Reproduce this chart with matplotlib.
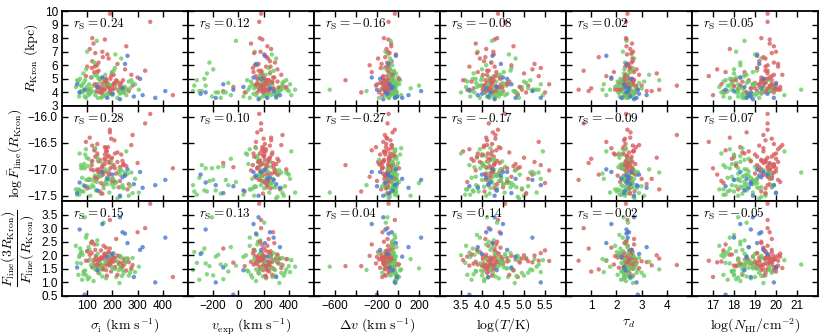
import numpy as np
import matplotlib
matplotlib.use('Agg')
import matplotlib.pyplot as plt

# --- red objects ---
R_red = [5.0, 4.4, 6.3, 4.7, 4.2, 5.5, 4.0, 4.8, 7.2, 4.5,
         4.1, 5.9, 4.6, 4.3, 5.2, 4.9, 6.8, 4.2, 5.6, 4.4,
         7.6, 4.7, 4.0, 5.3, 4.5, 6.0, 4.3, 4.9, 5.1, 4.1,
         9.8, 4.6, 5.7, 4.4, 6.5, 4.2, 4.8, 7.9, 4.0, 5.4,
         3.8, 4.6, 5.0, 4.3, 7.0, 4.7, 5.8, 4.1, 4.5, 6.2,
         9.2, 4.9, 4.2, 5.5, 4.4, 6.6, 4.0, 5.1, 4.6, 4.3,
         5.9, 4.5, 7.4, 4.2, 4.8, 5.2, 4.1, 6.1, 4.7, 4.4,
         5.6, 4.3, 6.9, 4.9, 4.0, 5.3, 8.0, 4.6, 4.2, 5.0]
logF_red = [-16.82, -17.12, -16.55, -16.98, -17.30, -16.70, -16.90, -17.05, -16.40, -17.18,
            -16.88, -16.62, -17.22, -16.94, -16.48, -17.08, -16.76, -17.38, -16.85, -16.58,
            -17.02, -16.72, -17.26, -16.92, -16.35, -17.14, -16.80, -16.66, -17.00, -17.34,
            -16.25, -16.96, -17.10, -16.52, -16.86, -17.20, -16.68, -16.90, -17.42, -16.78,
            -16.98, -17.16, -16.60, -16.84, -17.04, -16.45, -16.92, -17.28, -16.74, -17.06,
            -15.95, -16.82, -17.24, -16.64, -16.96, -17.10, -16.30, -16.88, -17.02, -16.70,
            -17.36, -16.58, -16.94, -17.12, -16.80, -16.42, -17.18, -16.86, -16.66, -17.00,
            -16.13, -17.08, -16.76, -16.92, -17.46, -16.54, -16.84, -17.22, -16.72, -16.98]
ratio_red = [1.72, 2.10, 1.58, 1.90, 2.35, 1.66, 1.84, 1.45, 2.02, 1.78,
             2.25, 1.62, 1.94, 1.50, 1.80, 2.60, 1.70, 1.88, 1.35, 2.06,
             1.76, 1.54, 2.18, 1.86, 1.64, 1.98, 1.40, 1.82, 2.45, 1.68,
             3.30, 1.92, 1.74, 1.56, 2.12, 1.80, 1.28, 1.96, 1.60, 2.00,
             1.20, 1.85, 2.28, 1.69, 1.52, 1.90, 2.08, 1.75, 1.62, 1.83,
             3.90, 1.66, 1.95, 2.40, 1.73, 1.48, 1.88, 2.85, 1.79, 1.57,
             2.15, 1.70, 1.44, 1.92, 2.03, 1.81, 1.63, 1.99, 1.25, 1.86,
             3.00, 1.74, 2.20, 1.60, 1.87, 1.53, 2.50, 1.77, 1.97, 1.67]
sigma_red = [150, 185, 120, 210, 165, 140, 245, 175, 110, 200,
             190, 130, 230, 160, 95, 215, 180, 260, 145, 170,
             125, 235, 155, 205, 280, 135, 195, 175, 115, 225,
             190, 160, 250, 140, 185, 105, 220, 170, 150, 198,
             440, 130, 175, 240, 160, 208, 118, 265, 185, 145,
             350, 172, 200, 128, 230, 162, 190, 300, 140, 210,
             100, 182, 255, 155, 168, 195, 138, 220, 178, 148,
             330, 188, 132, 242, 160, 275, 120, 205, 170, 192]
vexp_red = [210, 180, 250, 150, 230, 120, 300, 195, 260, 170,
            -120, 220, 185, 280, 140, 240, 205, 330, 160, 190,
            100, 265, 215, 175, 350, 130, 245, 200, 285, 225,
            180, 155, 310, 210, 235, 165, 270, 190, 50, 250,
            220, 145, 200, 320, 175, 260, 115, 230, 195, 290,
            165, 240, 205, 185, -40, 225, 150, 275, 210, 170,
            255, 135, 230, 190, 310, 200, 245, 160, 215, 380,
            180, 265, 125, 220, 195, 340, 170, 235, 205, 150]
dv_red = [-80, -120, -60, -150, -95, -40, -180, -70, -110, -130,
          -50, -90, -200, -75, -140, -100, -20, -160, -85, -115,
          -65, -170, -105, -45, -125, -270, -88, -135, -55, -98,
          -30, -145, -78, -112, -190, -62, -128, -92, -350, -82,
          -150, -108, -58, -138, -96, -72, -165, -118, -42, -102,
          -90, -132, -68, -250, -86, -122, -52, -148, -94, -76,
          -110, -210, -64, -126, -84, -104, -36, -156, -116, -70,
          -100, -142, -80, -500, -92, -60, -134, -88, -120, 10]
logT_red = [4.20, 4.35, 4.05, 4.60, 4.15, 3.90, 4.80, 4.25, 4.10, 5.10,
            4.30, 3.70, 4.45, 4.18, 5.35, 4.08, 4.28, 4.95, 4.12, 4.40,
            3.85, 4.22, 5.50, 4.02, 4.32, 4.70, 4.16, 3.55, 4.26, 4.50,
            4.38, 4.10, 5.20, 4.24, 3.95, 4.14, 4.65, 4.30, 4.06, 5.00,
            4.85, 4.20, 4.44, 3.80, 4.27, 4.12, 5.40, 4.36, 4.00, 4.22,
            4.55, 4.18, 3.65, 4.34, 4.90, 4.08, 4.26, 4.42, 5.60, 4.14,
            4.30, 4.04, 4.75, 4.20, 3.75, 4.32, 4.10, 5.25, 4.24, 4.48,
            4.16, 4.40, 3.88, 4.28, 5.05, 4.12, 4.36, 4.60, 4.02, 4.22]
tau_red = [2.50, 2.30, 2.65, 2.20, 2.45, 1.90, 2.75, 2.40, 2.55, 3.00,
           0.90, 2.35, 2.60, 2.48, 1.60, 2.70, 2.42, 3.70, 2.52, 2.28,
           2.62, 2.10, 2.58, 2.38, 4.40, 2.46, 1.00, 2.68, 2.32, 2.56,
           2.44, 2.25, 2.80, 2.36, 2.64, 0.50, 2.50, 2.40, 2.72, 3.60,
           2.34, 2.58, 1.80, 2.46, 2.66, 2.30, 2.54, 3.20, 2.42, 2.60,
           2.38, 2.48, 2.15, 2.70, 2.36, 1.30, 2.56, 2.44, 2.62, 2.28,
           2.52, 2.78, 2.40, 2.05, 2.58, 2.34, 3.40, 2.46, 2.66, 2.50,
           0.70, 2.42, 2.60, 2.32, 2.54, 2.90, 2.38, 2.48, 1.95, 2.64]
NHI_red = [19.5, 19.8, 19.2, 20.0, 19.6, 18.5, 19.9, 19.3, 17.8, 19.7,
           19.4, 20.1, 18.9, 19.6, 16.8, 19.8, 19.1, 18.2, 19.5, 20.2,
           19.7, 19.0, 17.5, 19.9, 19.4, 19.6, 20.0, 18.7, 19.3, 19.8,
           19.6, 19.2, 17.2, 19.9, 19.5, 20.1, 18.4, 19.7, 19.3, 19.6,
           17.0, 19.8, 19.4, 18.8, 20.0, 19.5, 19.1, 19.7, 18.0, 19.9,
           19.6, 19.3, 20.2, 17.6, 19.8, 19.4, 18.6, 19.7, 19.2, 20.0,
           19.5, 18.3, 19.9, 19.6, 17.9, 19.8, 19.1, 20.1, 19.4, 19.7,
           19.6, 19.0, 19.8, 18.1, 19.5, 20.3, 19.3, 17.4, 19.9, 19.6]

# --- green objects ---
R_green = [4.1, 3.8, 5.4, 4.4, 6.0, 3.7, 4.9, 4.2, 3.9, 5.1,
           4.6, 4.0, 3.6, 5.8, 4.3, 4.8, 4.1, 3.9, 4.5, 6.5,
           3.8, 4.2, 5.0, 4.7, 3.7, 4.4, 5.3, 4.0, 4.6, 3.6,
           4.9, 7.0, 4.3, 4.1, 3.9, 5.2, 4.5, 4.8, 3.8, 4.0,
           5.6, 4.2, 3.7, 4.7, 6.2, 4.4, 4.1, 3.9, 5.0, 4.3,
           3.6, 4.6, 4.0, 5.5, 3.8, 4.2, 4.9, 7.8, 4.5, 4.1,
           3.9, 5.1, 4.3, 3.7, 4.8, 4.0, 6.8, 4.4, 4.2, 3.8,
           5.7, 4.6, 4.1, 3.6, 4.7, 5.3, 4.0, 4.3, 3.9, 4.5]
logF_green = [-17.30, -16.95, -17.42, -17.10, -16.75, -17.22, -17.48, -17.05, -17.35, -16.88,
              -17.18, -17.40, -16.62, -17.26, -17.08, -17.50, -16.92, -17.20, -17.33, -17.02,
              -16.80, -17.44, -17.14, -17.28, -16.98, -17.36, -17.12, -16.70, -17.24, -17.46,
              -17.06, -17.32, -16.85, -17.16, -17.52, -17.00, -17.26, -17.38, -16.66, -17.20,
              -17.34, -16.90, -17.10, -17.45, -17.22, -16.78, -17.30, -17.04, -17.40, -17.14,
              -17.55, -17.18, -16.96, -17.28, -17.36, -17.08, -16.72, -17.24, -17.42, -17.02,
              -17.16, -16.86, -17.32, -17.48, -17.12, -16.94, -17.26, -17.38, -17.06, -16.60,
              -17.20, -17.44, -17.10, -16.82, -17.30, -17.00, -17.34, -17.50, -17.18, -16.98]
ratio_green = [1.55, 2.05, 1.30, 1.88, 2.40, 1.15, 1.72, 1.45, 2.20, 1.62,
               1.38, 1.95, 2.65, 1.50, 1.80, 1.25, 2.10, 1.68, 1.05, 1.92,
               2.30, 1.58, 1.42, 1.76, 3.40, 1.35, 1.84, 2.00, 1.20, 1.66,
               1.48, 2.15, 1.74, 1.10, 1.98, 2.55, 1.52, 1.28, 1.82, 1.64,
               2.08, 1.40, 1.22, 1.90, 1.60, 2.75, 1.46, 1.70, 2.25, 1.33,
               1.78, 1.18, 2.02, 1.56, 3.20, 1.86, 1.44, 1.62, 2.12, 0.98,
               1.74, 2.50, 1.36, 1.94, 1.54, 1.12, 1.80, 2.35, 1.66, 1.48,
               1.26, 1.96, 1.60, 2.06, 1.40, 1.76, 1.24, 1.86, 1.52, 1.70]
sigma_green = [120, 200, 85, 250, 140, 175, 60, 225, 110, 160,
               290, 135, 95, 210, 150, 265, 75, 190, 125, 235,
               105, 305, 145, 180, 90, 245, 130, 70, 215, 155,
               275, 100, 195, 80, 230, 140, 170, 65, 255, 115,
               205, 88, 160, 280, 128, 98, 240, 185, 72, 148,
               220, 108, 82, 198, 165, 260, 92, 138, 78, 228,
               178, 118, 270, 68, 152, 102, 212, 55, 248, 132,
               96, 188, 230, 142, 86, 172, 238, 112, 202, 76]
vexp_green = [180, 260, -250, 320, 150, 220, -330, 290, 120, 200,
              410, -180, 90, 240, 170, 360, -290, 210, 140, 300,
              -60, 450, 160, 230, -210, 340, 190, 60, 270, -140,
              380, 130, 250, -310, 310, 175, 215, 100, 420, -100,
              280, 80, 195, 350, -230, 145, -360, 235, -270, 165,
              300, 110, -160, 255, 205, 390, 70, -20, -350, 325,
              225, 155, 370, 40, 185, -120, 265, 90, 340, 140,
              -200, 245, 400, 170, -80, 215, 295, 125, 275, -260]
dv_green = [-40, -70, -20, -90, -55, -10, -110, -35, -60, 0,
            -80, -45, -25, -130, -65, -5, -95, -50, -30, -75,
            -15, -650, -58, -40, -100, -22, -68, -48, 10, -85,
            -32, -120, -52, -18, -78, -44, 200, -62, -28, -92,
            -38, -56, -8, -105, -72, -34, -300, -48, -64, -26,
            -88, -14, -54, -42, -116, -36, 20, -70, -46, -24,
            -82, -58, -150, -30, -66, -12, -98, -50, -40, 30,
            -76, -20, -60, -180, -44, -86, -16, 120, -52, -34]
logT_green = [4.30, 4.55, 3.80, 4.90, 4.10, 4.40, 3.60, 5.20, 4.20, 4.00,
              5.40, 4.35, 3.95, 4.70, 4.15, 5.00, 3.70, 4.45, 4.05, 4.80,
              4.25, 5.30, 3.85, 4.50, 4.12, 4.95, 4.38, 3.50, 4.62, 4.18,
              5.15, 3.90, 4.48, 3.75, 4.85, 4.28, 4.58, 3.65, 5.45, 4.08,
              4.68, 4.02, 4.32, 5.05, 4.22, 3.88, 4.75, 4.42, 3.78, 4.26,
              4.88, 4.14, 3.82, 4.52, 4.36, 5.25, 3.98, 4.24, 3.92, 4.78,
              4.46, 4.16, 5.10, 3.72, 4.34, 4.06, 4.64, 3.62, 5.35, 4.20,
              4.00, 4.54, 4.40, 4.30, 3.86, 4.44, 4.82, 4.10, 4.60, 3.96]
tau_green = [2.45, 2.60, 2.30, 2.75, 2.40, 2.55, 2.20, 2.85, 2.50, 2.35,
             1.50, 2.48, 2.25, 2.65, 2.42, 3.10, 2.15, 2.58, 2.38, 2.70,
             2.44, 1.75, 2.32, 2.52, 2.28, 2.80, 2.46, 2.10, 2.62, 2.40,
             3.70, 2.26, 2.56, 2.18, 2.68, 2.42, 2.54, 2.05, 1.60, 2.36,
             2.64, 2.22, 2.50, 2.90, 2.34, 2.12, 2.48, 2.58, 2.16, 2.44,
             2.72, 2.30, 2.08, 2.56, 2.46, 1.45, 2.24, 2.40, 2.02, 2.66,
             2.52, 2.36, 3.00, 2.14, 2.48, 2.28, 2.60, 1.95, 2.78, 2.38,
             2.32, 2.54, 2.42, 2.46, 2.20, 3.30, 2.62, 2.34, 2.70, 2.26]
NHI_green = [18.5, 19.0, 18.0, 19.4, 18.3, 18.8, 17.6, 19.6, 18.4, 18.1,
             19.8, 18.6, 17.8, 19.1, 18.2, 19.5, 17.5, 18.9, 18.3, 19.3,
             18.7, 20.0, 17.9, 18.6, 18.2, 19.2, 18.5, 17.4, 19.0, 18.4,
             19.7, 18.1, 18.8, 17.7, 19.3, 18.5, 18.9, 17.5, 20.4, 18.2,
             19.1, 17.9, 18.6, 19.5, 18.3, 18.0, 19.9, 18.7, 17.8, 18.4,
             19.2, 18.2, 17.6, 18.9, 18.6, 19.6, 18.0, 18.5, 17.7, 19.4,
             18.8, 18.3, 19.8, 17.5, 18.7, 18.1, 19.0, 17.3, 21.2, 18.4,
             18.0, 18.9, 19.7, 18.5, 17.9, 18.6, 19.3, 18.2, 19.1, 17.8]

# --- blue objects ---
R_blue = [4.0, 3.6, 5.1, 4.3, 3.8, 4.6, 3.5, 6.7, 4.1, 3.9, 4.4, 5.0, 3.7, 4.2, 6.1, 3.6]
logF_blue = [-17.25, -17.30, -17.05, -17.15, -17.35, -17.45, -17.50, -17.00,
             -17.20, -17.10, -17.40, -17.05, -17.28, -17.32, -17.12, -17.18]
ratio_blue = [2.95, 1.00, 3.15, 2.85, 2.30, 1.55, 3.40, 2.45, 2.65, 2.05, 1.45, 2.20, 1.20, 0.55, 2.80, 1.95]
sigma_blue = [70, 370, 160, 240, 320, 60, 230, 260, 410, 200, 140, 310, 285, 90, 250, 180]
vexp_blue = [-260, -180, 120, 250, 330, -120, 160, 210, 280, -300, 40, 180, 300, -40, 140, 230]
dv_blue = [-120, -30, -250, -60, 100, -80, -140, -20, 220, -100, -50, -170, -10, -200, -90, 40]
logT_blue = [4.20, 5.40, 4.50, 4.10, 3.90, 4.70, 4.30, 4.25, 5.20, 4.00, 4.35, 4.60, 4.15, 3.70, 4.45, 4.80]
tau_blue = [2.40, 2.80, 1.80, 2.50, 3.20, 2.30, 2.70, 1.60, 2.45, 2.90, 2.35, 2.60, 2.55, 2.85, 2.40, 2.20]
NHI_blue = [18.8, 19.9, 18.3, 19.3, 18.7, 20.0, 18.9, 19.1, 18.0, 19.6, 18.5, 19.4, 18.8, 17.6, 19.2, 18.6]

# spearman coefficients shown in each panel (rows: R, F, ratio)
rs_values = [[0.24, 0.12, -0.16, -0.08, 0.02, 0.05],
             [0.28, 0.10, -0.27, -0.17, -0.09, 0.07],
             [0.15, 0.13, 0.04, 0.14, -0.02, -0.05]]

x_labels = [r'$\sigma_{\rm i}\ ({\rm km\ s^{-1}})$',
            r'$v_{\rm exp}\ ({\rm km\ s^{-1}})$',
            r'$\Delta v\ ({\rm km\ s^{-1}})$',
            r'$\log(T/{\rm K})$',
            r'$\tau_d$',
            r'$\log(N_{\rm HI}/{\rm cm^{-2}})$']
y_labels = [r'$R_{\rm Kron}\ ({\rm kpc})$',
            r'$\log \bar{F}_{\rm line}(R_{\rm Kron})$',
            r'$\dfrac{F_{\rm line}(3R_{\rm Kron})}{F_{\rm line}(R_{\rm Kron})}$']

x_lims = [(0, 500), (-400, 600), (-800, 400), (3.0, 6.0), (0, 5), (16, 22)]
x_ticks = [[100, 200, 300, 400], [-200, 0, 200, 400], [-600, -400, -200, 0, 200],
           [3.5, 4.0, 4.5, 5.0, 5.5], [1, 2, 3, 4], [17, 18, 19, 20, 21]]
x_ticklabels = [['100', '200', '300', '400'], ['\u2212200', '0', '200', '400'],
                ['\u2212600', '', '\u2212200', '0', '200'],
                ['3.5', '4.0', '4.5', '5.0', '5.5'], ['1', '2', '3', '4'],
                ['17', '18', '19', '20', '21']]
y_lims = [(3, 10), (-17.6, -15.8), (0.5, 4.0)]
y_ticks = [[3, 4, 5, 6, 7, 8, 9, 10], [-17.5, -17.0, -16.5, -16.0],
           [0.5, 1.0, 1.5, 2.0, 2.5, 3.0, 3.5]]

palette = {'red': '#d65f5f', 'green': '#6acc65', 'blue': '#4878cf'}

plt.rcParams['font.family'] = ['Liberation Sans', 'DejaVu Sans']
plt.rcParams['mathtext.fontset'] = 'cm'
plt.rcParams['axes.linewidth'] = 1.3


def interleave(a, b, c):
    # alternate red/green so neither colour sits fully on top, blue last
    a = np.asarray(a, float)
    b = np.asarray(b, float)
    out = np.empty(len(a) + len(b))
    out[0::2] = a
    out[1::2] = b
    return np.concatenate([out, np.asarray(c, float)])


xs = [interleave(sigma_red, sigma_green, sigma_blue),
      interleave(vexp_red, vexp_green, vexp_blue),
      interleave(dv_red, dv_green, dv_blue),
      interleave(logT_red, logT_green, logT_blue),
      interleave(tau_red, tau_green, tau_blue),
      interleave(NHI_red, NHI_green, NHI_blue)]
ys = [interleave(R_red, R_green, R_blue),
      interleave(logF_red, logF_green, logF_blue),
      interleave(ratio_red, ratio_green, ratio_blue)]

n_rg = len(R_red) + len(R_green)
point_colors = [palette['red'] if i % 2 == 0 else palette['green'] for i in range(n_rg)]
point_colors += [palette['blue']] * len(R_blue)

fig, axes = plt.subplots(3, 6, figsize=(8.31, 3.36), dpi=100, sharex='col', sharey='row')
fig.subplots_adjust(left=62 / 831, right=818 / 831, top=1 - 11 / 336, bottom=1 - 296 / 336,
                    wspace=0, hspace=0)

for i in range(3):
    for j in range(6):
        ax = axes[i, j]
        ax.scatter(xs[j], ys[i], s=10, c=point_colors, alpha=0.8, linewidths=0)
        ax.set_xlim(x_lims[j])
        ax.set_ylim(y_lims[i])
        ax.set_xticks(x_ticks[j])
        ax.set_yticks(y_ticks[i])
        ax.tick_params(direction='in', top=True, right=True, length=4.5, width=1,
                       labelsize=8.5, pad=3)
        ax.text(0.09, 0.86, r'$r_{\rm S}=%.2f$' % rs_values[i][j], transform=ax.transAxes,
                fontsize=9.5, va='center', ha='left')
        if i == 2:
            ax.set_xticklabels(x_ticklabels[j])
            ax.set_xlabel(x_labels[j], fontsize=10, labelpad=3)
        if j == 0:
            ax.set_ylabel(y_labels[i], fontsize=10, labelpad=3)

fig.savefig('out.png', dpi=100)
